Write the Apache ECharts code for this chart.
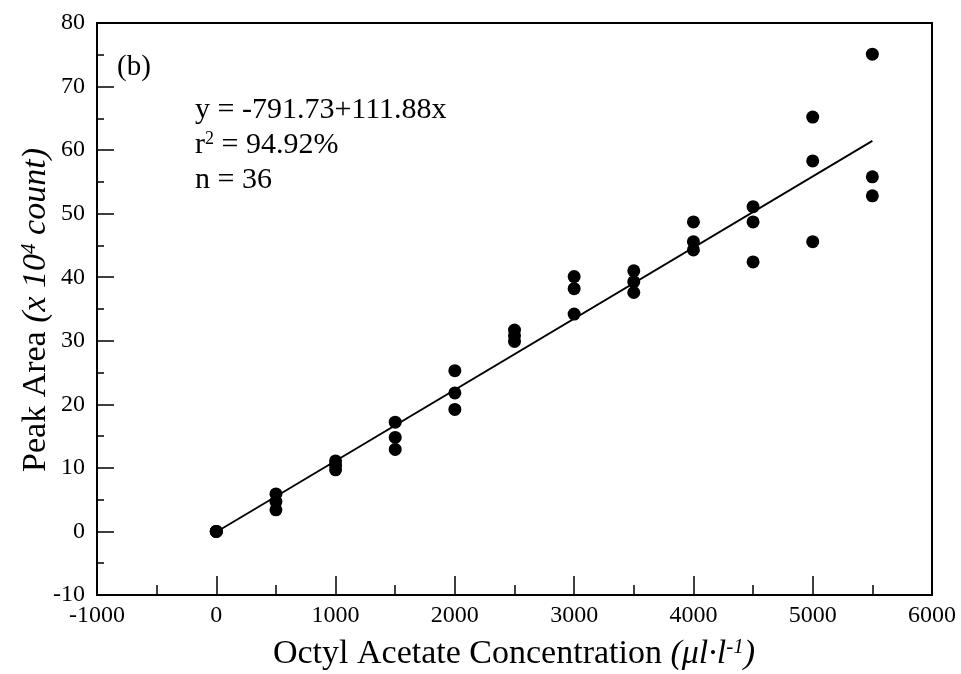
<!DOCTYPE html>
<html>
<head>
<meta charset="utf-8">
<script src="https://cdn.jsdelivr.net/npm/echarts@6/dist/echarts.min.js"></script>
<style>
html,body{margin:0;padding:0;background:#fff;}
#chart{width:961px;height:674px;}
</style>
</head>
<body>
<div id="chart"></div>
<script>
// Concentrations (µl/l)
const concentrations = [0, 500, 1000, 1500, 2000, 2500, 3000, 3500, 4000, 4500, 5000, 5500];
// Three replicate peak areas (x10^4 count) at each concentration
const rep1 = [0.0, 5.9, 11.1, 17.2, 25.3, 31.7, 40.1, 41.0, 48.7, 51.1, 65.2, 75.1];
const rep2 = [0.0, 4.7, 10.4, 14.8, 21.8, 30.8, 38.2, 39.3, 45.6, 48.7, 58.3, 55.8];
const rep3 = [0.0, 3.4, 9.7, 12.9, 19.2, 29.9, 34.2, 37.6, 44.3, 42.4, 45.6, 52.8];
// Regression: y = -791.73 + 111.88x (in counts), plotted in x10^4 count
const intercept = -791.73;
const slope = 111.88;
const fitRange = [0, 5500];
const xTicks = { min: -1000, max: 6000, interval: 1000 };
const yTicks = { min: -10, max: 80, interval: 10 };

const points = [];
[rep1, rep2, rep3].forEach(rep => {
  concentrations.forEach((c, i) => points.push([c, rep[i]]));
});
const fitLine = fitRange.map(x => [x, (intercept + slope * x) / 10000]);

const FONT = '"Liberation Serif", "Times New Roman", serif';
const chart = echarts.init(document.getElementById('chart'));
chart.setOption({
  backgroundColor: '#fff',
  animation: false,
  grid: { left: 97, top: 23, right: 29, bottom: 79, show: true, borderColor: '#000', borderWidth: 2, backgroundColor: 'transparent' },
  xAxis: {
    type: 'value', min: xTicks.min, max: xTicks.max, interval: xTicks.interval,
    axisLine: { show: true, onZero: false, lineStyle: { color: '#000', width: 2 } },
    axisTick: { show: true, inside: true, length: 19, lineStyle: { color: '#000', width: 1.5 } },
    minorTick: { show: true, splitNumber: 2, length: 10, lineStyle: { color: '#000', width: 1.5 } },
    splitLine: { show: false },
    axisLabel: { color: '#000', fontFamily: FONT, fontSize: 24, margin: 9, formatter: v => String(v) }
  },
  yAxis: {
    type: 'value', min: yTicks.min, max: yTicks.max, interval: yTicks.interval,
    axisLine: { show: true, onZero: false, lineStyle: { color: '#000', width: 2 } },
    axisTick: { show: true, inside: true, length: 17, lineStyle: { color: '#000', width: 1.5 } },
    minorTick: { show: true, splitNumber: 2, length: 7, lineStyle: { color: '#000', width: 1.5 } },
    splitLine: { show: false },
    axisLabel: { color: '#000', fontFamily: FONT, fontSize: 24, margin: 12, formatter: v => String(v) }
  },
  series: [
    {
      type: 'line', data: fitLine, showSymbol: false, symbol: 'none',
      lineStyle: { color: '#000', width: 1.8 }, z: 2
    },
    {
      type: 'scatter', data: points, symbol: 'circle', symbolSize: 13,
      itemStyle: { color: '#000', opacity: 1 }, z: 3
    }
  ],
  graphic: [
    { type: 'text', x: 117, y: 67, style: { text: '(b)', font: '29px ' + FONT, fill: '#000', textVerticalAlign: 'middle' } },
    { type: 'text', x: 195, y: 110, style: { text: 'y = -791.73+111.88x', font: '30px ' + FONT, fill: '#000', textVerticalAlign: 'middle' } },
    { type: 'text', x: 195, y: 145, style: {
        text: '{a|r}{s|2}{a| = 94.92%}', fill: '#000', textVerticalAlign: 'middle',
        rich: { a: { fontFamily: FONT, fontSize: 30, fill: '#000' }, s: { fontFamily: FONT, fontSize: 18, verticalAlign: 'top', fill: '#000' } }
    } },
    { type: 'text', x: 195, y: 180, style: { text: 'n = 36', font: '30px ' + FONT, fill: '#000', textVerticalAlign: 'middle' } },
    { type: 'text', x: 514, y: 654, style: {
        text: '{a|Octyl Acetate Concentration }{i|(μl·l}{s|-1}{i|)}', fill: '#000', textAlign: 'center', textVerticalAlign: 'middle',
        rich: {
          a: { fontFamily: FONT, fontSize: 34, fill: '#000' },
          i: { fontFamily: FONT, fontSize: 34, fontStyle: 'italic', fill: '#000' },
          s: { fontFamily: FONT, fontSize: 21, fontStyle: 'italic', verticalAlign: 'top', fill: '#000' }
        }
    } },
    { type: 'text', x: 36, y: 310, rotation: Math.PI / 2, style: {
        text: '{a|Peak Area }{i|(x 10}{s|4}{i| count)}', fill: '#000', textAlign: 'center', textVerticalAlign: 'middle',
        rich: {
          a: { fontFamily: FONT, fontSize: 34, fill: '#000' },
          i: { fontFamily: FONT, fontSize: 34, fontStyle: 'italic', fill: '#000' },
          s: { fontFamily: FONT, fontSize: 21, fontStyle: 'italic', verticalAlign: 'top', fill: '#000' }
        }
    } }
  ]
});
</script>
</body>
</html>
